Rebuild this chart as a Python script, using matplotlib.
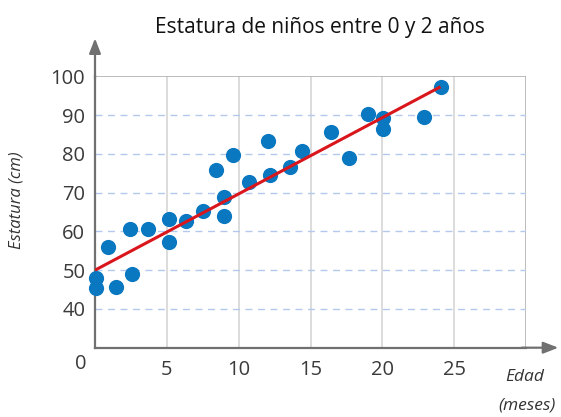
import matplotlib
matplotlib.use("Agg")
import matplotlib.pyplot as plt
import numpy as np

# Edad (meses) y estatura (cm) de cada niño
edad = [0.07, 0.07, 0.88, 1.44, 2.44, 2.58, 3.72, 5.18, 5.18, 6.32, 7.55,
        8.41, 8.95, 8.95, 9.64, 10.69, 12.01, 12.15, 13.54, 14.43, 16.42,
        17.70, 18.98, 20.05, 20.05, 22.90, 24.07]
estatura = [45.3, 48.1, 56.0, 45.7, 60.6, 49.1, 60.6, 63.2, 57.2, 62.7, 65.3,
            75.8, 68.9, 64.0, 79.8, 72.7, 83.2, 74.5, 76.5, 80.7, 85.6,
            78.9, 90.2, 89.2, 86.3, 89.6, 97.3]

# Recta de ajuste: extremos en 0 y 24 meses
recta_x = [0, 24.05]
recta_y = [50.0, 97.3]

x_ticks = [5, 10, 15, 20, 25]
y_ticks = [40, 50, 60, 70, 80, 90, 100]

titulo = "Estatura de niños entre 0 y 2 años"

plt.rcParams['font.family'] = ['Open Sans', 'DejaVu Sans']

fig = plt.figure(figsize=(5.61, 4.17), dpi=100)
ax = fig.add_axes([95 / 561, 1 - 347.7 / 417, (526 - 95) / 561, (347.7 - 76.3) / 417])
ax.set_xlim(0, 30)
ax.set_ylim(30, 100)

# Cuadrícula
for xv in x_ticks:
    ax.axvline(xv, color='#d6d6d6', lw=1.2, zorder=0)
ax.axvline(30, color='#b0b0b0', lw=1.2, zorder=0)
for yv in y_ticks[:-1]:
    ax.axhline(yv, color='#b3c8ec', lw=1.0, ls=(0, (5, 4)), zorder=0)
ax.axhline(100, color='#b0b0b0', lw=1.2, zorder=0)

for s in ['top', 'right']:
    ax.spines[s].set_visible(False)
for s in ['left', 'bottom']:
    ax.spines[s].set_color('#707070')
    ax.spines[s].set_linewidth(1.6)

# Flechas de los ejes
ax.annotate('', xy=(0, 1.14), xytext=(0, 0.99), xycoords='axes fraction',
            arrowprops=dict(arrowstyle='-|>,head_length=0.9,head_width=0.35',
                            color='#707070', lw=1.6, shrinkA=0, shrinkB=0),
            annotation_clip=False)
ax.annotate('', xy=(1.075, 0), xytext=(0.99, 0), xycoords='axes fraction',
            arrowprops=dict(arrowstyle='-|>,head_length=0.9,head_width=0.35',
                            color='#707070', lw=1.6, shrinkA=0, shrinkB=0),
            annotation_clip=False)

ax.scatter(edad, estatura, s=120, color='#0a78c0', zorder=3, clip_on=False,
           linewidths=0)
ax.plot(recta_x, recta_y, color='#d9161c', lw=2.2, zorder=4,
        solid_capstyle='butt')

ax.set_xticks(x_ticks)
ax.set_yticks(y_ticks)
ax.tick_params(length=0, labelsize=14.5, colors='#3a3a3a')
ax.tick_params(axis='x', pad=9)
ax.tick_params(axis='y', pad=7)

ax.text(-0.6, 28.3, '0', ha='right', va='top', fontsize=14.5, color='#3a3a3a')

fig.text(320 / 561, 1 - 27 / 417, titulo, ha='center', va='center',
         fontsize=15, color='#111111')
fig.text(17 / 561, 1 - 200 / 417, 'Estatura (cm)', rotation=90, ha='center',
         va='center', fontsize=12, style='italic', color='#333333')
fig.text(525 / 561, 1 - 377 / 417, 'Edad', ha='center', va='center',
         fontsize=12.5, style='italic', color='#333333')
fig.text(527 / 561, 1 - 405 / 417, '(meses)', ha='center', va='center',
         fontsize=12.5, style='italic', color='#333333')

fig.savefig('out.png', dpi=100)
